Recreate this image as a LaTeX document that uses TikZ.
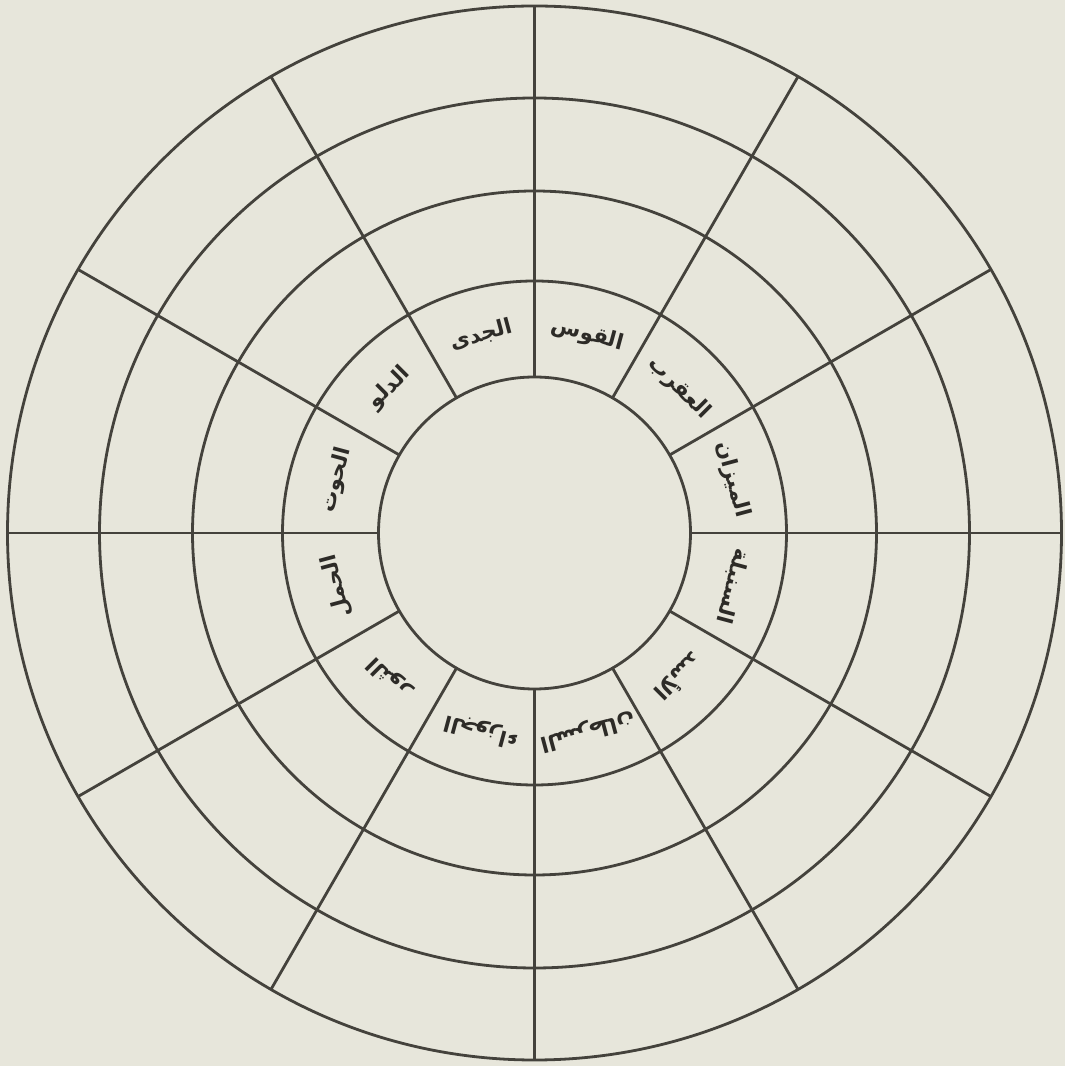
\documentclass[tikz,border=0pt]{standalone}
\usepackage{fontspec}
\TeXXeTstate=1
\newfontfamily\arabicfont[Script=Arabic]{DejaVu Sans}
\definecolor{paper}{RGB}{231,230,219}
\definecolor{ink}{RGB}{68,66,60}
\definecolor{textink}{RGB}{45,43,39}
\begin{document}
\begin{tikzpicture}[x=1pt,y=1pt,
  ring/.style={draw=ink,line width=2.8pt},
  spoke/.style={draw=ink,line width=2.8pt},
  sign/.style={font=\arabicfont\bfseries\fontsize{21.5}{25}\selectfont,text=textink,inner sep=0pt}]
\fill[paper] (0,0) rectangle (1065,1066);
\useasboundingbox (0,0) rectangle (1065,1066);
\begin{scope}[shift={(534.5,533)}]
\coordinate (c) at (0,0);
\foreach \r in {156,252,342,435,527} \draw[ring] (c) circle[radius=\r];
\foreach \a in {0,30,...,330} \draw[spoke] (\a:156) -- (\a:527);
\foreach \a/\t/\n in {75/القوس/qaws,105/الجدى/jady,135/الدلو/dalw,165/الحوت/hut,195/الحمل/hamal,225/الثور/thawr,255/الجوزاء/jawza,285/السرطان/saratan,315/الأسد/asad,345/السنبلة/sunbula,15/الميزان/mizan,45/العقرب/aqrab}
  \node[sign,rotate=\a-90] (\n) at (\a:205) {\beginR \t\endR};
\end{scope}
\end{tikzpicture}
\end{document}
